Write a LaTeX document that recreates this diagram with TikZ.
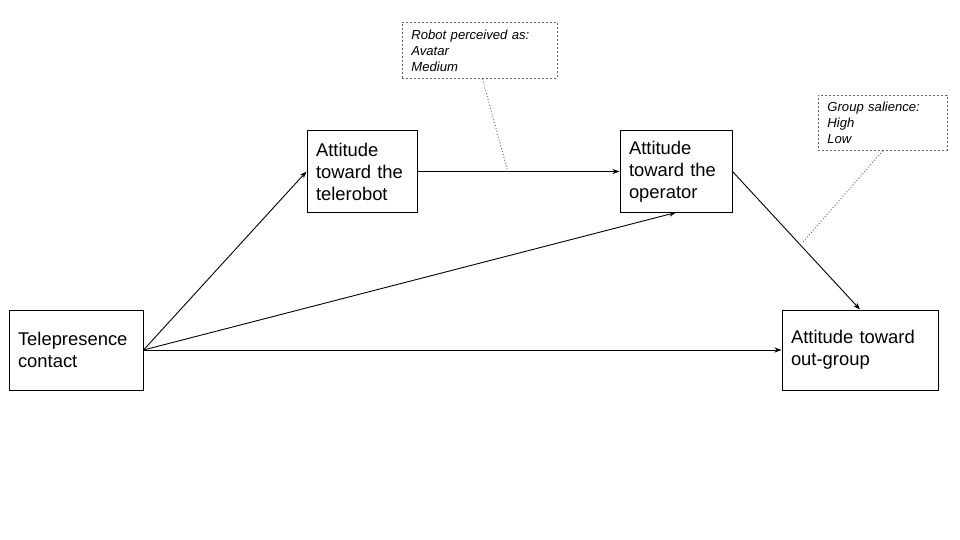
\documentclass[tikz,border=0pt]{standalone}
\usepackage{fontspec}
\setmainfont{Liberation Sans}
\usetikzlibrary{arrows.meta,calc}
\begin{document}
\begin{tikzpicture}[x=1pt,y=-1pt,
  box/.style={draw=black, line width=1pt, inner xsep=9pt, inner ysep=0pt, align=left,
    font=\fontsize{18.4}{22}\selectfont, anchor=center},
  callout/.style={draw=black!60, line width=0.8pt, dash pattern=on 2pt off 2pt,
    inner xsep=9pt, inner ysep=5pt, align=left, font=\fontsize{13.1}{16}\selectfont\itshape},
  arr/.style={draw=black, line width=0.9pt, -{Stealth[length=7pt,width=5pt]}},
  dotl/.style={draw=black!60, line width=0.9pt, dash pattern=on 1pt off 2pt}
]
\useasboundingbox (0,0) rectangle (960,540);
\fill[white] (0,0) rectangle (960,540);

\node[box, minimum width=134pt, minimum height=80pt, text width=116pt] (tp) at (76,350) {Telepresence\\contact};
\node[box, minimum width=110pt, minimum height=81pt, text width=92pt] (tr) at (362,171.5) {Attitude\\toward the\\telerobot};
\node[box, minimum width=112pt, minimum height=81pt, text width=94pt] (op) at (676,171.5) {Attitude\\toward the\\operator};
\node[box, minimum width=156pt, minimum height=80pt, text width=138pt] (og) at (860,350) {Attitude toward\\out-group};

\node[callout, minimum width=155pt, minimum height=56pt, text width=137pt, anchor=north west] (c1) at (402,22) {Robot perceived as:\\Avatar\\Medium};
\node[callout, minimum width=129pt, minimum height=55pt, text width=111pt, anchor=north west] (c2) at (818,95) {Group salience:\\High\\Low};

\draw[arr] (tp.east) -- (tr.west);
\draw[arr] (tr.east) -- (op.west);
\draw[arr] (tp.east) -- (op.south);
\draw[arr] (op.east) -- (og.north);
\draw[arr] (tp.east) -- (og.west);

\coordinate (m1) at (508,172);
\coordinate (m2) at (802,243);
\draw[dotl] ($(c1.south)+(2.5,0)$) -- (m1);
\draw[dotl] ($(c2.south)+(0,0)$) -- (m2);
\end{tikzpicture}
\end{document}
